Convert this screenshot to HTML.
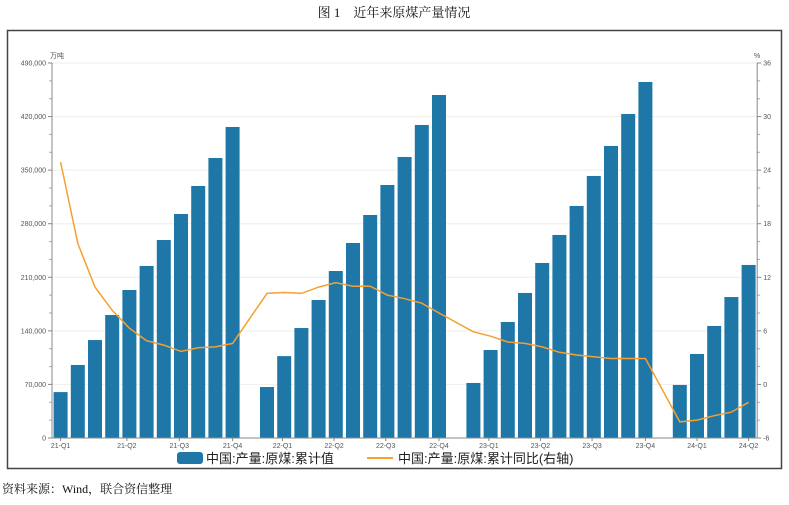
<!DOCTYPE html>
<html><head><meta charset="utf-8"><style>
body{margin:0;background:#fff;width:789px;height:500px;overflow:hidden;font-family:"Liberation Sans","Noto Sans CJK SC",sans-serif}
</style></head><body>
<svg width="789" height="500" xmlns="http://www.w3.org/2000/svg" id="chart">
<text x="394" y="17" text-anchor="middle" font-family="Liberation Serif,Noto Serif CJK SC,serif" font-size="13" fill="#111">图 1　近年来原煤产量情况</text>
<rect x="7.5" y="30.5" width="774" height="438" fill="none" stroke="#444" stroke-width="1.5"/>
<g id="grid"></g><g id="bars"></g><g id="axes"></g><g id="line"></g>
<text x="50" y="58" font-size="7" fill="#555">万吨</text>
<text x="754" y="58" font-size="7" fill="#555">%</text>
<g>
<rect x="177" y="452" width="26" height="12" rx="3" fill="#1f77a8"/>
<text x="206" y="463" font-size="13" fill="#222">中国:产量:原煤:累计值</text>
<line x1="367" y1="458" x2="393" y2="458" stroke="#f5a030" stroke-width="2"/>
<text x="398" y="463" font-size="13" fill="#222">中国:产量:原煤:累计同比(右轴)</text>
</g>
<text x="2" y="493" font-family="Liberation Serif,Noto Serif CJK SC,serif" font-size="12" fill="#111">资料来源：Wind，联合资信整理</text>
</svg>
<script>
const values = [60000,95400,128000,160700,193400,224800,258700,292700,329300,365900,406400,null,
66600,107000,143700,180300,218200,254800,291400,330600,367200,409000,448200,null,
71900,115000,151600,189500,228700,265300,303200,342400,381600,423400,465200,null,
69300,109800,146400,184200,226100];
const yoy = [24.9,15.8,10.9,8.3,6.3,4.9,4.4,3.7,4.1,4.2,4.6,null,
10.2,10.3,10.2,10.9,11.4,11.0,11.0,10.0,9.6,9.1,8.0,null,
5.9,5.4,4.75,4.6,4.2,3.6,3.3,3.1,2.9,2.9,2.9,null,
-4.2,-4.0,-3.5,-3.1,-2.0];
const xLabels = ["21-Q1","21-Q2","21-Q3","21-Q4","22-Q1","22-Q2","22-Q3","22-Q4","23-Q1","23-Q2","23-Q3","23-Q4","24-Q1","24-Q2"];
const xLabelIdx = [0,3.85,6.9,10,12.9,15.9,18.9,22,24.9,27.9,30.9,34,37,40];
const leftTicks = [0,70000,140000,210000,280000,350000,420000,490000];
const rightTicks = [-6,0,6,12,18,24,30,36];
const NS="http://www.w3.org/2000/svg";
const X0=52, SLOT=17.2, Y0=438, Y1=63;
const yL=v=>Y0-(v/490000)*(Y0-Y1);
const yR=v=>Y0-((v+6)/42)*(Y0-Y1);
const xC=i=>X0+SLOT*(i+0.5);
function mk(tag,attrs,parent){const e=document.createElementNS(NS,tag);for(const k in attrs)e.setAttribute(k,attrs[k]);document.getElementById(parent).appendChild(e);return e;}
const XR=X0+SLOT*values.length;
leftTicks.forEach((t,i)=>{
  const y=yL(t);
  if(t>0){const g=mk('line',{x1:X0,x2:XR,y1:y,y2:y,stroke:'#eee','stroke-width':1},'grid');
  
  }
  const tk=mk('line',{x1:X0-4,x2:X0,y1:y,y2:y,stroke:'#888'},'axes');
  
  
  if(i<leftTicks.length-1){const m=(yL(t)+yL(leftTicks[i+1]))/2;[m-(m-y)/1,0].slice(0,1);
    [1/3,2/3].forEach(f=>{const yy=y+(yL(leftTicks[i+1])-y)*f;const mt=mk('line',{x1:X0-3,x2:X0,y1:yy,y2:yy,stroke:'#aaa'},'axes');
    
    });}
  const tx=mk('text',{x:X0-6,y:y+2.5,'text-anchor':'end','font-size':7,fill:'#555'},'axes');tx.textContent=t.toLocaleString('en-US');
  
  
});
rightTicks.forEach((t,i)=>{
  const y=yR(t);
  const tk=mk('line',{x1:XR,x2:XR+4,y1:y,y2:y,stroke:'#888'},'axes');
  
  
  if(i<rightTicks.length-1){[1/3,2/3].forEach(f=>{const yy=y+(yR(rightTicks[i+1])-y)*f;const mt=mk('line',{x1:XR,x2:XR+3,y1:yy,y2:yy,stroke:'#aaa'},'axes');
    
    });}
  const tx=mk('text',{x:XR+6,y:y+2.5,'font-size':7,fill:'#555'},'axes');tx.textContent=t;
  
  
});
[['left-axis',X0,X0,Y1,Y0],['right-axis',XR,XR,Y1,Y0],['x-axis',X0,XR,Y0,Y0]].forEach(a=>{
  const l=mk('line',{x1:a[1],x2:a[2],y1:a[3],y2:a[4],stroke:'#888'},'axes');
  
  
});
values.forEach((v,i)=>{
  if(v==null)return;
  const y=yL(v);
  const r=mk('rect',{x:xC(i)-7,y:y,width:14,height:Y0-y,fill:'#1f77a8'},'bars');
  
  
});
xLabels.forEach((s,k)=>{
  const x=xC(xLabelIdx[k]);
  const tk=mk('line',{x1:x,x2:x,y1:Y0,y2:Y0+3,stroke:'#888'},'axes');
  
  
  const t=mk('text',{x:x,y:Y0+10,'text-anchor':'middle','font-size':7,fill:'#555'},'axes');t.textContent=s;
  
  
});
const pts=[];yoy.forEach((v,i)=>{if(v!=null)pts.push(xC(i).toFixed(1)+','+yR(v).toFixed(1));});
const pl=mk('polyline',{points:pts.join(' '),fill:'none',stroke:'#f5a030','stroke-width':1.5},'line');


</script>
</body></html>
